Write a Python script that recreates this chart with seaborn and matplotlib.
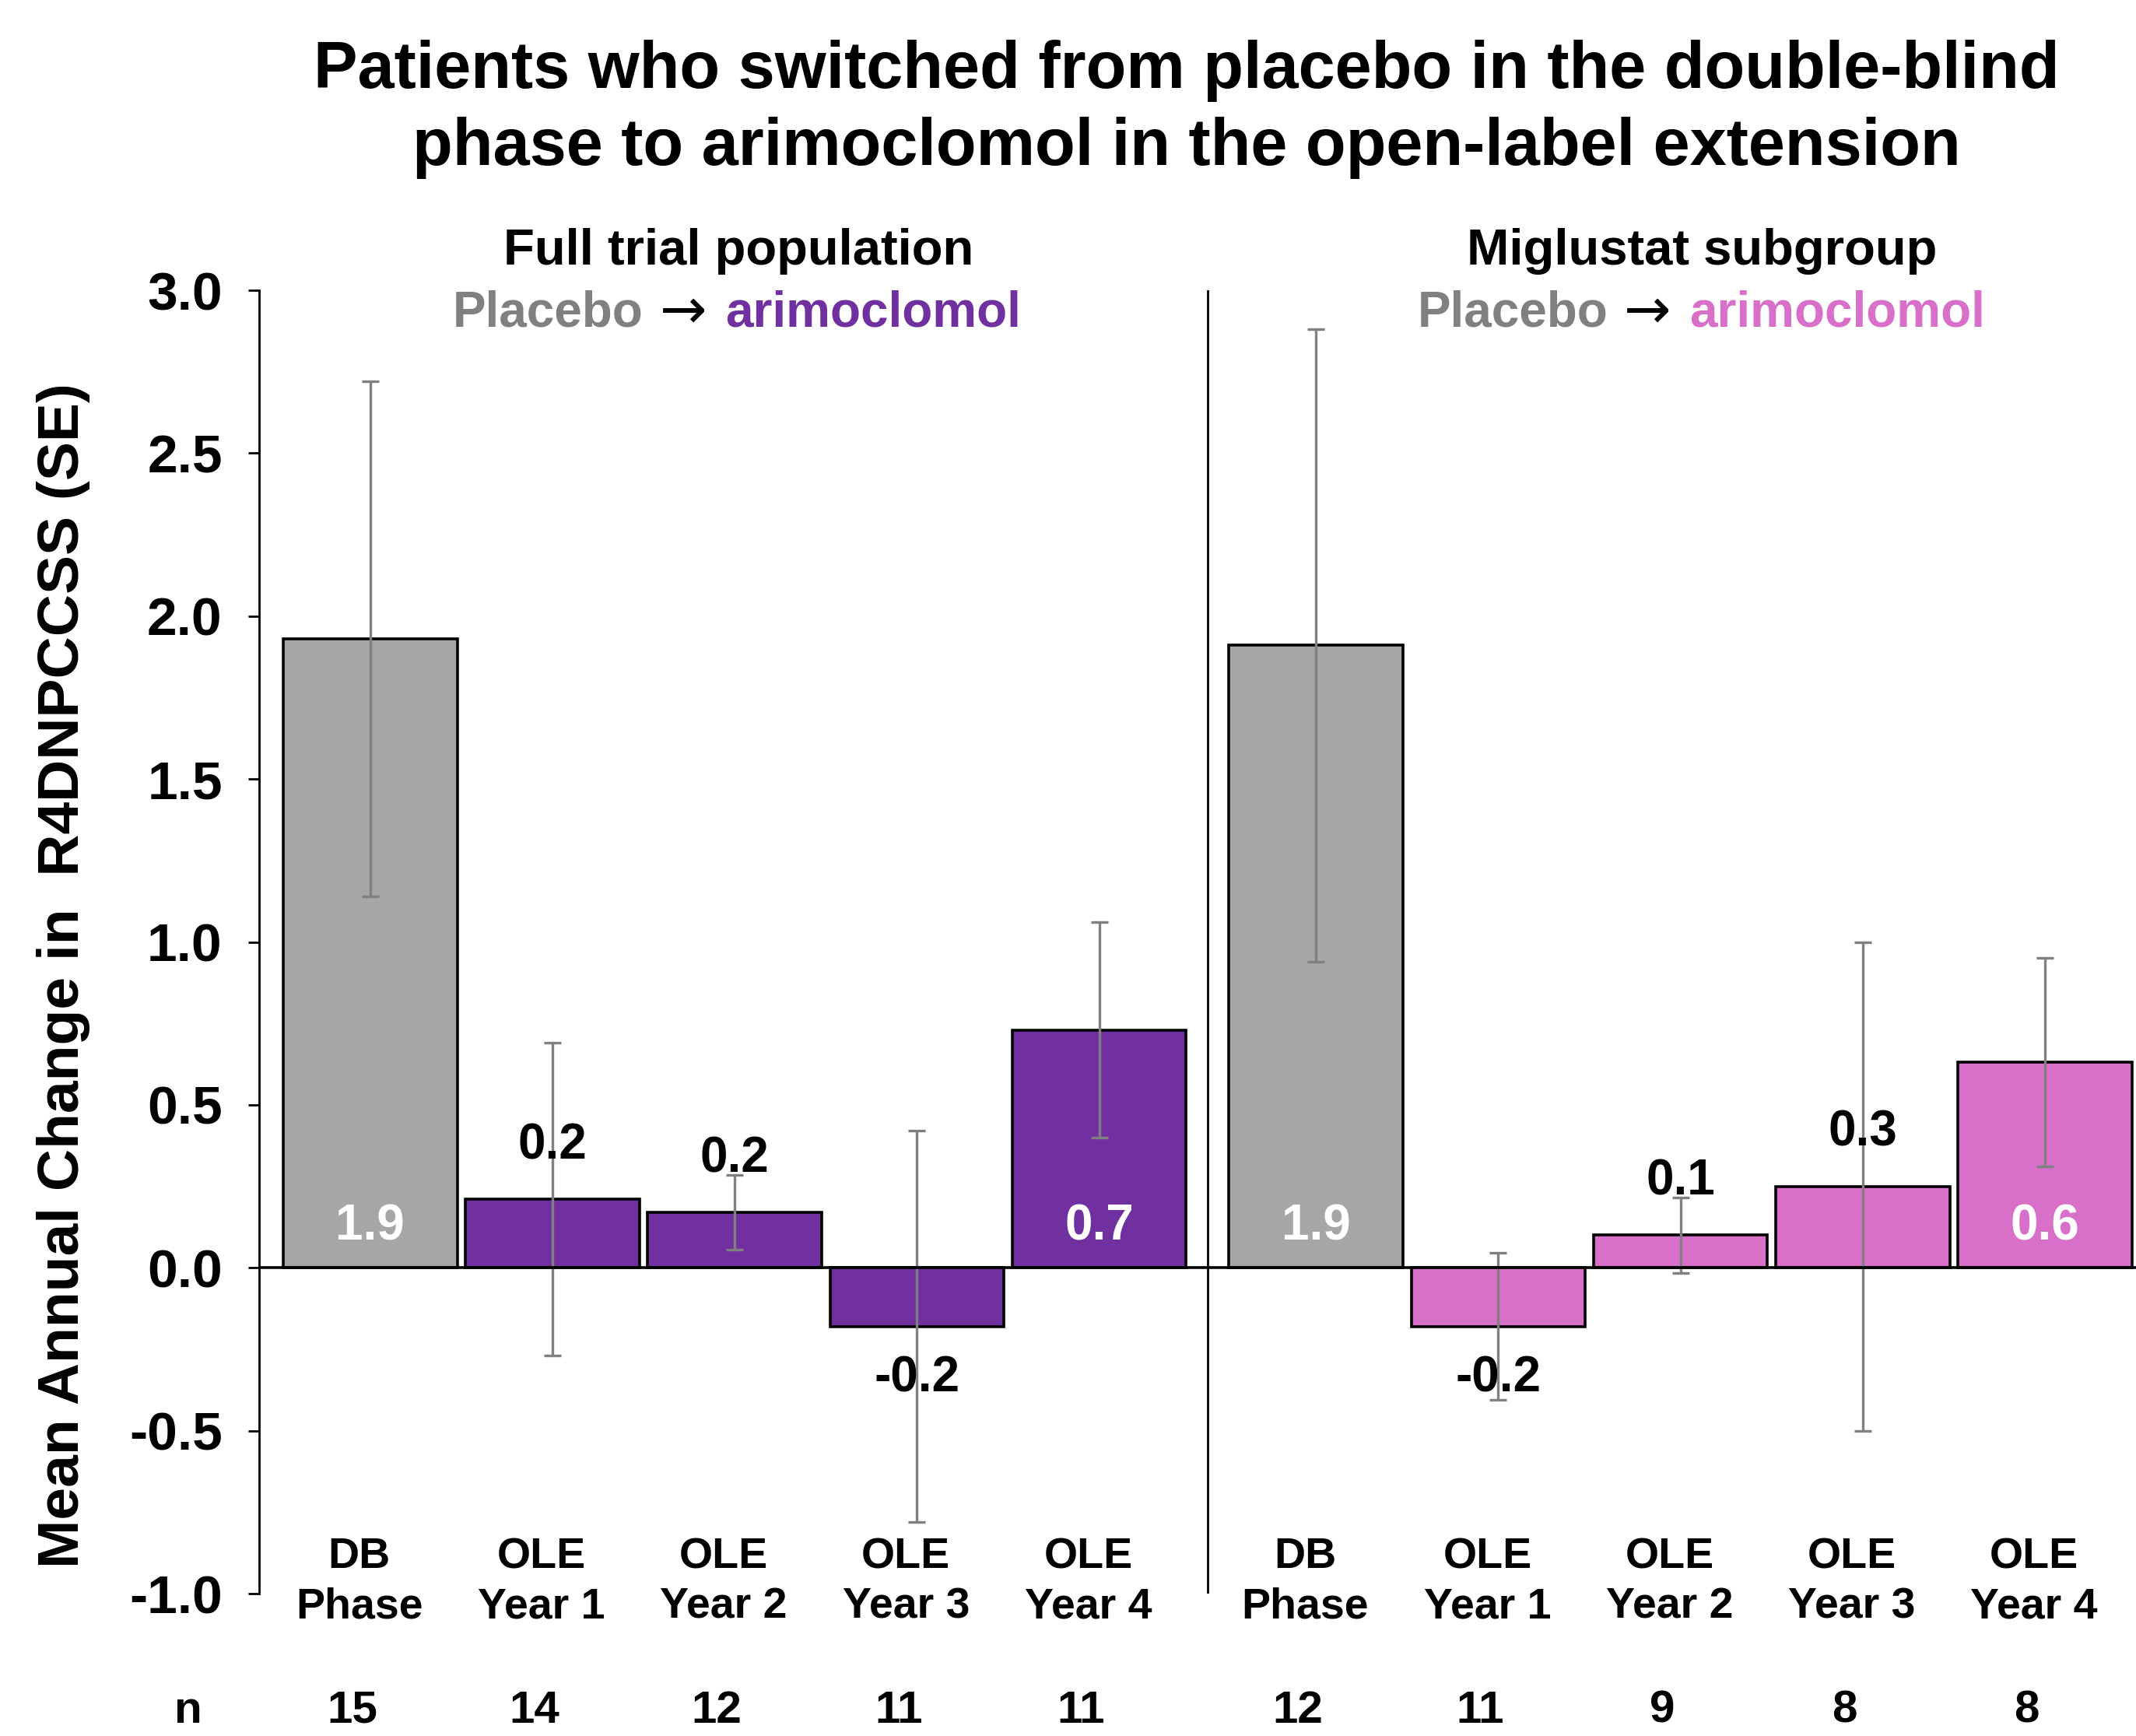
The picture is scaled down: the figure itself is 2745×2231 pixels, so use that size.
import numpy as np
import pandas as pd
import matplotlib
matplotlib.use('Agg')
import matplotlib.pyplot as plt
import seaborn as sns

# values
groups = ["DB", "OLE", "OLE", "OLE", "OLE", "DB", "OLE", "OLE", "OLE", "OLE"]
subsets = ["full"] * 5 + ["miglustat"] * 5
cat_labels = ["DB\nPhase", "OLE\nYear 1", "OLE\nYear 2", "OLE\nYear 3", "OLE\nYear 4",
              "DB\nPhase", "OLE\nYear 1", "OLE\nYear 2", "OLE\nYear 3", "OLE\nYear 4"]
means = [1.93, 0.21, 0.17, -0.18, 0.73, 1.91, -0.18, 0.10, 0.25, 0.63]
se = [0.79, 0.48, 0.115, 0.60, 0.33, 0.97, 0.225, 0.115, 0.75, 0.32]
value_text = ["1.9", "0.2", "0.2", "-0.2", "0.7", "1.9", "-0.2", "0.1", "0.3", "0.6"]
n_patients = [15, 14, 12, 11, 11, 12, 11, 9, 8, 8]

GRAY = "#A6A6A6"
PURPLE = "#7030A0"
PINK = "#D86FC9"

# bar positions: two groups of five with a gap between them
pos = np.r_[np.arange(5), np.arange(5) + 5.19]
fill_key = [g if g == "DB" else f"{g}_{s}" for g, s in zip(groups, subsets)]
df = pd.DataFrame({"pos": pos, "mean": means, "se": se, "fill": fill_key})
palette = {"DB": GRAY, "OLE_full": PURPLE, "OLE_miglustat": PINK}

sns.set_style("white")
plt.rcParams["font.family"] = ["Liberation Sans", "DejaVu Sans"]
plt.rcParams["font.weight"] = "bold"
plt.rcParams["text.color"] = "black"
plt.rcParams["ytick.color"] = "black"

fig = plt.figure(figsize=(27.45, 22.31), dpi=100)
ax = fig.add_axes([0.1213, 0.082, 0.8787, 0.7508])

sns.barplot(data=df, x="pos", y="mean", hue="fill", palette=palette, native_scale=True,
            width=0.955, edgecolor="black", linewidth=2.6, legend=False, ax=ax,
            errorbar=None, saturation=1)
ax.errorbar(df["pos"], df["mean"], yerr=df["se"], fmt="none", ecolor="#808080",
            elinewidth=2.4, capsize=8, capthick=2.4, zorder=5)

ax.set_xlim(-0.61, 9.69)
ax.set_ylim(-1.0, 3.0)
ticks = np.arange(-1.0, 3.01, 0.5)
ax.set_yticks(ticks)
ax.set_yticklabels([f"{v:.1f}" for v in ticks], fontsize=50, fontweight="bold", color="black")
ax.tick_params(axis="y", direction="out", length=10, width=2, left=True, pad=24)
ax.set_xticks([])
ax.set_xlabel("")
ax.set_ylabel("")
for side in ["top", "right", "bottom"]:
    ax.spines[side].set_visible(False)
ax.spines["left"].set_linewidth(2)
ax.spines["left"].set_color("black")

ax.axhline(0, color="black", linewidth=2.6, zorder=6)
ax.axvline((pos[4] + pos[5]) / 2, color="black", linewidth=2, zorder=6)

# value labels
for x, m, t in zip(pos, means, value_text):
    if m > 0.55:
        ax.text(x, 0.125, t, ha="center", va="center", color="white", fontsize=46, fontweight="bold", zorder=7)
    elif m > 0:
        ax.text(x, m + 0.165, t, ha="center", va="center", color="black", fontsize=46, fontweight="bold", zorder=7)
    else:
        ax.text(x, m - 0.16, t, ha="center", va="center", color="black", fontsize=46, fontweight="bold", zorder=7)

# category labels inside the bottom of the axes
for x, lab in zip(pos, cat_labels):
    ax.text(x - 0.06, -0.965, lab, ha="center", va="center", fontsize=40, fontweight="bold",
            linespacing=1.3)

# n row
trans = matplotlib.transforms.blended_transform_factory(ax.transData, ax.transAxes)
ax.text(-1.0, -0.09, "n", transform=trans, ha="center", va="center", fontsize=42,
        fontweight="bold", clip_on=False)
for x, n in zip(pos, n_patients):
    ax.text(x - 0.1, -0.09, str(n), transform=trans, ha="center", va="center", fontsize=42,
            fontweight="bold", clip_on=False)

# panel headings
headings = [("Full trial population", PURPLE, 2.02, 1.716), ("Miglustat subgroup", PINK, 7.31, 7.01)]
for title, col, xc, xa in headings:
    ax.text(xc, 3.12, title, ha="center", va="center", fontsize=47, fontweight="bold", clip_on=False)
    ax.text(xa, 2.93, "\u2192", ha="center", va="center", fontsize=52, fontweight="normal",
            color="black", family=["DejaVu Sans"])
    ax.annotate("Placebo", xy=(xa, 2.93), xytext=(-37, 0), textcoords="offset points",
                ha="right", va="center", fontsize=46, fontweight="bold", color="#808080")
    ax.annotate("arimoclomol", xy=(xa, 2.93), xytext=(39, 0), textcoords="offset points",
                ha="left", va="center", fontsize=46, fontweight="bold", color=col)

fig.text(0.5555, 0.977, "Patients who switched from placebo in the double-blind\nphase to arimoclomol in the open-label extension",
         ha="center", va="top", fontsize=61, fontweight="bold", linespacing=1.3)

fig.text(0.0296, 0.438, "Mean Annual Change in  R4DNPCCSS (SE)", rotation=90, ha="center", va="center",
         fontsize=54, fontweight="bold")

fig.savefig("out.png", dpi=100)
